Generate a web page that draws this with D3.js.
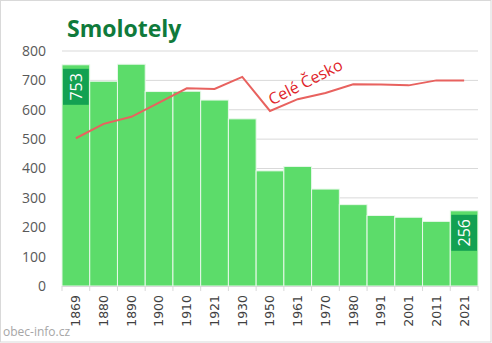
<!DOCTYPE html>
<html><head><meta charset="utf-8">
<script src="https://cdn.jsdelivr.net/npm/d3@7"></script>
<style>body{margin:0;background:#fff}svg{display:block}</style>
</head><body>
<svg id="c" width="492" height="343"></svg>
<script>
const years = ["1869","1880","1890","1900","1910","1921","1930","1950","1961","1970","1980","1991","2001","2011","2021"];
const population = [753,697,755,662,663,633,569,392,407,330,277,240,234,220,256];
const czechiaScaled = [503,552,576,624,673,671,712,596,636,657,687,686,683,700,700];
const yTicks = [0,100,200,300,400,500,600,700,800];
const title = "Smolotely";
const lineLabel = "Celé Česko";
const source = "obec-info.cz";

const svg = d3.select("#c");
const W = 492, H = 343;
const m = {l:62, r:14, t:51, b:57};
const x = d3.scaleBand().domain(years).range([m.l, W - m.r]).padding(0);
const y = d3.scaleLinear().domain([0,800]).range([H - m.b, m.t]);

svg.append("rect").attr("x",0.5).attr("y",0.5).attr("width",W-1.5).attr("height",H-1.5)
  .attr("fill","#fff").attr("stroke","#d9d9d9");

// grid
svg.append("g").selectAll("line").data(yTicks.filter(d=>d>0)).join("line")
  .attr("x1",m.l).attr("x2",W-m.r).attr("y1",d=>y(d)).attr("y2",d=>y(d))
  .attr("stroke","#d9d9d9").attr("stroke-width",1);

// y labels
svg.append("g").selectAll("text").data(yTicks).join("text")
  .attr("x",46).attr("y",d=>y(d)).attr("dy","0.35em").attr("text-anchor","end")
  .attr("font-family","Open Sans, sans-serif").attr("font-size",14).attr("fill","#595959")
  .text(d=>d);

// bars
svg.append("g").selectAll("rect").data(years).join("rect")
  .attr("x",d=>x(d)).attr("width",x.bandwidth())
  .attr("y",(d,i)=>y(population[i])).attr("height",(d,i)=>y(0)-y(population[i]))
  .attr("fill","#5cdc6a").attr("stroke","#e8f8ea").attr("stroke-width",1);

// x axis line and ticks
svg.append("line").attr("x1",m.l).attr("x2",W-m.r).attr("y1",y(0)+0.5).attr("y2",y(0)+0.5).attr("stroke","#d9d9d9");
svg.append("g").selectAll("line").data(years.concat(["end"])).join("line")
  .attr("x1",(d,i)=>m.l + i*x.bandwidth()).attr("x2",(d,i)=>m.l + i*x.bandwidth())
  .attr("y1",y(0)).attr("y2",y(0)+5).attr("stroke","#d9d9d9");

// x labels
svg.append("g").selectAll("text").data(years).join("text")
  .attr("transform",d=>`translate(${x(d)+x.bandwidth()/2},${y(0)+9}) rotate(-90)`)
  .attr("text-anchor","end").attr("dy","0.35em")
  .attr("font-family","DejaVu Sans, sans-serif").attr("font-size",12.5).attr("fill","#404040")
  .text(d=>d);

// line
const line = d3.line().x((d,i)=>x(years[i])+x.bandwidth()/2).y(d=>y(d));
svg.append("path").datum(czechiaScaled).attr("d",line)
  .attr("fill","none").attr("stroke","#e8625f").attr("stroke-width",2);

svg.append("text").attr("transform","translate(308,87) rotate(-27)")
  .attr("text-anchor","middle").attr("font-family","Open Sans, sans-serif").attr("font-size",16)
  .attr("fill","#e0242a").text(lineLabel);

// value labels for first and last
[0, years.length-1].forEach(i=>{
  const cx = x(years[i]) + x.bandwidth()/2;
  const top = y(population[i]) + 4;
  svg.append("rect").attr("x",x(years[i])+1).attr("y",top).attr("width",x.bandwidth()-2).attr("height",36)
    .attr("fill","#13a152");
  svg.append("text").attr("transform",`translate(${cx},${top+18}) rotate(-90)`)
    .attr("text-anchor","middle").attr("dy","0.36em")
    .attr("font-family","Open Sans, sans-serif").attr("font-size",16).attr("fill","#fff")
    .text(population[i]);
});

// title
svg.append("text").attr("x",67).attr("y",37).attr("font-family","Open Sans, sans-serif")
  .attr("font-weight","bold").attr("font-size",23).attr("fill","#0f7a3b").text(title);

svg.append("text").attr("x",3).attr("y",336).attr("font-family","Open Sans, sans-serif")
  .attr("font-size",12).attr("fill","#a6a6a6").text(source);
</script>
</body></html>
